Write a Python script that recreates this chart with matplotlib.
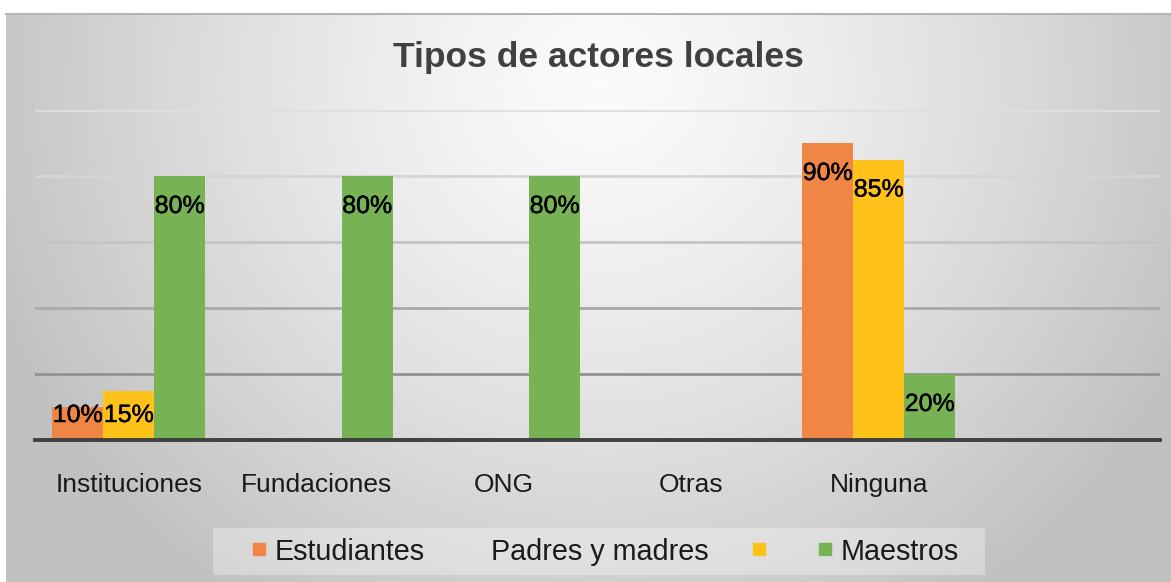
import numpy as np
import matplotlib
matplotlib.use("Agg")
import matplotlib.pyplot as plt
from matplotlib.lines import Line2D
from matplotlib.patches import Rectangle
import matplotlib.patheffects as pe

# ---- data ----
categories = ["Instituciones", "Fundaciones", "ONG", "Otras", "Ninguna", ""]
series_names = ["Estudiantes", "Padres y madres", "Maestros"]
estudiantes = [10, np.nan, np.nan, np.nan, 90, np.nan]
padres = [15, np.nan, np.nan, np.nan, 85, np.nan]
maestros = [80, 80, 80, np.nan, 20, np.nan]
title = "Tipos de actores locales"

colors = ["#EF8645", "#FFC21A", "#77B255"]
FONT = ["Liberation Sans", "Arial", "DejaVu Sans"]

W, H = 1171, 582
fig = plt.figure(figsize=(W / 100, H / 100), dpi=100)
fig.patch.set_facecolor("white")

# ---- radial gradient background ----
bg = fig.add_axes([6 / W, 0, (W - 6) / W, (H - 13) / H], zorder=-10)
bw, bh = W - 6, H - 13
yy, xx = np.mgrid[0:bh, 0:bw]
cx, cy = 594, 70
r = np.sqrt(((xx - cx) / 640.0) ** 2 + ((yy - cy) / 620.0) ** 2)
t = np.clip(r, 0, 1) ** 1.3
light, dark = 0.985, 0.76
val = light * (1 - t) + dark * t
img = np.dstack([val, val, val])
bg.imshow(img, aspect="auto", extent=(0, 1, 0, 1), origin="upper")
bg.set_axis_off()
fig.add_artist(Line2D([6 / W, 1], [1 - 13.5 / H, 1 - 13.5 / H], color="#b5b5b5", lw=1.5))

# ---- main axes ----
ax = fig.add_axes([35 / W, 1 - 440 / H, 1125 / W, 330 / H])
ax.patch.set_alpha(0)
x = np.arange(len(categories))
bw_bar = 0.272
series = [estudiantes, padres, maestros]
px_per_unit = 330 / 100.0
for i, (vals, col) in enumerate(zip(series, colors)):
    xs = x + (i - 1) * bw_bar
    v = np.array(vals, dtype=float)
    ax.bar(xs, np.nan_to_num(v), width=bw_bar, color=col, zorder=3, linewidth=0)
    for xi, vi in zip(xs, v):
        if np.isnan(vi):
            continue
        hpx = vi * px_per_unit
        off = min(30.0, hpx - 25.0)
        ax.text(xi, vi - off / px_per_unit, f"{vi:.0f}%", ha="center", va="center",
                fontsize=18, color="black", family=FONT, zorder=5,
                path_effects=[pe.withStroke(linewidth=0.3, foreground="black")])

ax.set_xlim(-0.5, len(categories) - 0.5)
ax.set_ylim(0, 100)
ax.set_yticks([0, 20, 40, 60, 80, 100])
ax.yaxis.grid(True, lw=2.0, zorder=0)
grid_colors = ["#404040", "#929292", "#a9a9a9", "#c4c4c4", "#d5d5d5", "#dfdfdf"]
for gl, gc in zip(ax.get_ygridlines(), grid_colors):
    gl.set_color(gc)
ax.set_axisbelow(True)
ax.tick_params(axis="y", left=False, labelleft=False)
ax.set_xticks(x)
ax.set_xticklabels(categories, fontsize=19, family=FONT, color="#1a1a1a")
ax.tick_params(axis="x", length=0, pad=24)
for s in ["top", "left", "right"]:
    ax.spines[s].set_visible(False)
ax.spines["bottom"].set_color("#404040")
ax.spines["bottom"].set_linewidth(2.8)
ax.spines["bottom"].set_zorder(4)

# ---- title ----
fig.text(598.5 / W, 1 - 57 / H, title, ha="center", va="center", fontsize=25.5,
         fontweight="bold", color="#404040", family=FONT)

# ---- legend ----
fig.add_artist(Rectangle((213 / W, 1 - 575 / H), (985 - 213) / W, 47 / H,
                         transform=fig.transFigure, facecolor="white", alpha=0.32,
                         edgecolor="none", zorder=1))
handles = [
    Line2D([], [], marker="s", ls="none", color=colors[0], markersize=9),
    Line2D([], [], marker="s", ls="none", color="none", markersize=9),
    Line2D([], [], marker="s", ls="none", color=colors[1], markersize=9),
    Line2D([], [], marker="s", ls="none", color=colors[2], markersize=9),
]
labels = [series_names[0], series_names[1], "", series_names[2]]
leg = fig.legend(handles, labels, loc="center", bbox_to_anchor=(605 / W, 1 - 551.5 / H),
                 ncol=4, frameon=False, handlelength=0.5,
                 handletextpad=0.3, columnspacing=1.5, borderpad=0.0,
                 prop={"family": FONT, "size": 20.7})
for txt in leg.get_texts():
    txt.set_color("#1a1a1a")

fig.savefig("out.png", dpi=100)
